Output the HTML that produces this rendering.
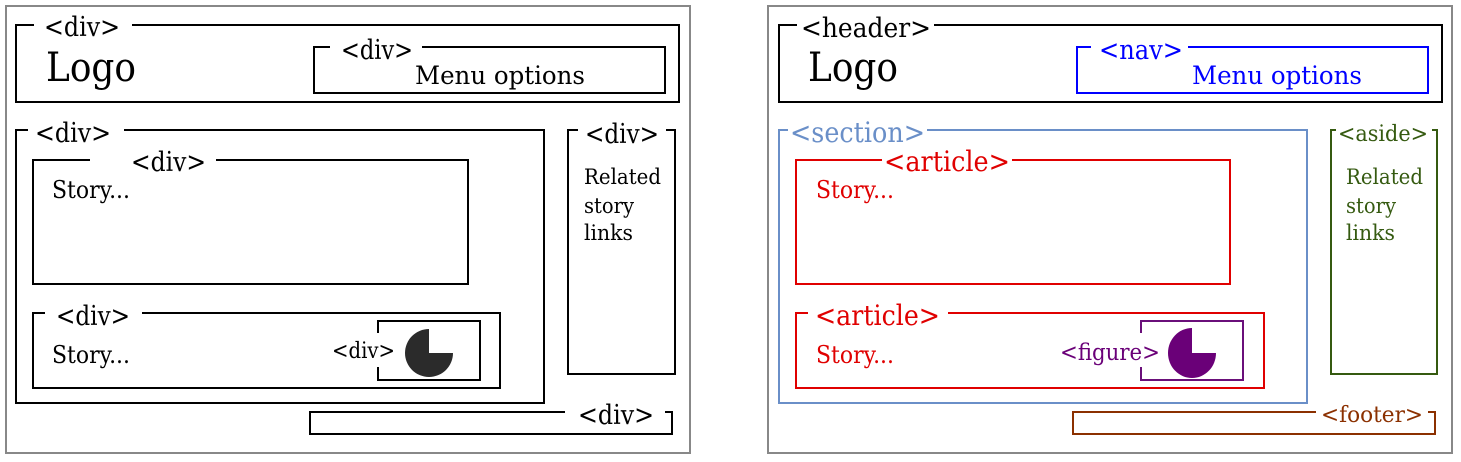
<!DOCTYPE html>
<html><head><meta charset="utf-8"><style>
html,body{margin:0;padding:0;background:#fff;}
svg{display:block;}
text{font-family:"DejaVu Serif","Liberation Serif",serif;}
</style></head><body>
<svg width="1461" height="462" viewBox="0 0 1461 462" xmlns="http://www.w3.org/2000/svg">
<g fill="none" stroke-width="2">
<rect x="6" y="6" width="684" height="447" stroke="#888"/>
<rect x="16" y="25" width="663" height="77" stroke="#000"/>
<rect x="314" y="47" width="351" height="46" stroke="#000"/>
<rect x="16" y="130" width="528" height="273" stroke="#000"/>
<rect x="33" y="160" width="435" height="124" stroke="#000"/>
<rect x="33" y="313" width="467" height="75" stroke="#000"/>
<rect x="378" y="321" width="102" height="59" stroke="#000"/>
<rect x="568" y="130" width="107" height="244" stroke="#000"/>
<rect x="310" y="412" width="362" height="22" stroke="#000"/>
<rect x="768" y="6" width="684" height="447" stroke="#888"/>
<rect x="779" y="25" width="663" height="77" stroke="#000"/>
<rect x="1077" y="47" width="351" height="46" stroke="#0000ff"/>
<rect x="779" y="130" width="528" height="273" stroke="#6a8fc8"/>
<rect x="796" y="160" width="434" height="124" stroke="#e00000"/>
<rect x="796" y="313" width="468" height="75" stroke="#e00000"/>
<rect x="1141" y="321" width="102" height="59" stroke="#6a0f7a"/>
<rect x="1331" y="130" width="106" height="244" stroke="#355a10"/>
<rect x="1073" y="412" width="362" height="22" stroke="#8b3000"/>
</g>
<g fill="#fff">
<rect x="34" y="18" width="98" height="14"/>
<rect x="330" y="40" width="92" height="14"/>
<rect x="28" y="123" width="96" height="14"/>
<rect x="90" y="153" width="126" height="14"/>
<rect x="45" y="306" width="97" height="14"/>
<rect x="370" y="333" width="14" height="34"/>
<rect x="578" y="123" width="88" height="14"/>
<rect x="565" y="405" width="100" height="14"/>
<rect x="797" y="18" width="137" height="14"/>
<rect x="1091" y="40" width="97" height="14"/>
<rect x="788" y="123" width="139" height="14"/>
<rect x="882" y="153" width="130" height="14"/>
<rect x="808" y="306" width="140" height="14"/>
<rect x="1133" y="333" width="14" height="34"/>
<rect x="1336" y="123" width="96" height="14"/>
<rect x="1316" y="405" width="112" height="14"/>
</g>
<path d="M429,353 L453,353 A24,24 0 1 1 429,329 Z" fill="#2b2b2b"/>
<path d="M1192,353 L1216,353 A24,25 0 1 1 1192,328 Z" fill="#6a0078"/>
<g fill="#000">
<text x="44" y="36" font-size="27" textLength="76" lengthAdjust="spacingAndGlyphs">&lt;div&gt;</text>
<text x="46" y="81" font-size="40" textLength="90" lengthAdjust="spacingAndGlyphs">Logo</text>
<text x="341" y="59" font-size="27" textLength="72" lengthAdjust="spacingAndGlyphs">&lt;div&gt;</text>
<text x="415" y="84" font-size="25" textLength="170" lengthAdjust="spacingAndGlyphs">Menu options</text>
<text x="35" y="142" font-size="27" textLength="76" lengthAdjust="spacingAndGlyphs">&lt;div&gt;</text>
<text x="131" y="171" font-size="27" textLength="75" lengthAdjust="spacingAndGlyphs">&lt;div&gt;</text>
<text x="52" y="198" font-size="24" textLength="78" lengthAdjust="spacingAndGlyphs">Story...</text>
<text x="56" y="325" font-size="27" textLength="74" lengthAdjust="spacingAndGlyphs">&lt;div&gt;</text>
<text x="52" y="363" font-size="24" textLength="78" lengthAdjust="spacingAndGlyphs">Story...</text>
<text x="332" y="358" font-size="22" textLength="63" lengthAdjust="spacingAndGlyphs">&lt;div&gt;</text>
<text x="585" y="143" font-size="27" textLength="74" lengthAdjust="spacingAndGlyphs">&lt;div&gt;</text>
<text x="584" y="184" font-size="21" textLength="77" lengthAdjust="spacingAndGlyphs">Related</text>
<text x="584" y="213" font-size="21" textLength="50" lengthAdjust="spacingAndGlyphs">story</text>
<text x="584" y="240" font-size="21" textLength="49" lengthAdjust="spacingAndGlyphs">links</text>
<text x="578" y="424" font-size="27" textLength="76" lengthAdjust="spacingAndGlyphs">&lt;div&gt;</text>
</g>
<text x="801" y="37" font-size="27" textLength="130" lengthAdjust="spacingAndGlyphs" fill="#000">&lt;header&gt;</text>
<text x="808" y="81" font-size="40" textLength="90" lengthAdjust="spacingAndGlyphs" fill="#000">Logo</text>
<text x="1099" y="59" font-size="27" textLength="84" lengthAdjust="spacingAndGlyphs" fill="#0000ff">&lt;nav&gt;</text>
<text x="1192" y="84" font-size="25" textLength="170" lengthAdjust="spacingAndGlyphs" fill="#0000ff">Menu options</text>
<text x="790" y="142" font-size="28" textLength="135" lengthAdjust="spacingAndGlyphs" fill="#6a8fc8">&lt;section&gt;</text>
<text x="884" y="171" font-size="28" textLength="126" lengthAdjust="spacingAndGlyphs" fill="#e00000">&lt;article&gt;</text>
<text x="816" y="198" font-size="24" textLength="78" lengthAdjust="spacingAndGlyphs" fill="#e00000">Story...</text>
<text x="815" y="325" font-size="28" textLength="125" lengthAdjust="spacingAndGlyphs" fill="#e00000">&lt;article&gt;</text>
<text x="816" y="363" font-size="24" textLength="78" lengthAdjust="spacingAndGlyphs" fill="#e00000">Story...</text>
<text x="1060" y="360" font-size="23" textLength="100" lengthAdjust="spacingAndGlyphs" fill="#6a0078">&lt;figure&gt;</text>
<text x="1338" y="141" font-size="22" textLength="90" lengthAdjust="spacingAndGlyphs" fill="#355a10">&lt;aside&gt;</text>
<text x="1346" y="184" font-size="21" textLength="77" lengthAdjust="spacingAndGlyphs" fill="#355a10">Related</text>
<text x="1346" y="213" font-size="21" textLength="50" lengthAdjust="spacingAndGlyphs" fill="#355a10">story</text>
<text x="1346" y="240" font-size="21" textLength="49" lengthAdjust="spacingAndGlyphs" fill="#355a10">links</text>
<text x="1321" y="422" font-size="22" textLength="102" lengthAdjust="spacingAndGlyphs" fill="#8b3000">&lt;footer&gt;</text>
</svg>
</body></html>
